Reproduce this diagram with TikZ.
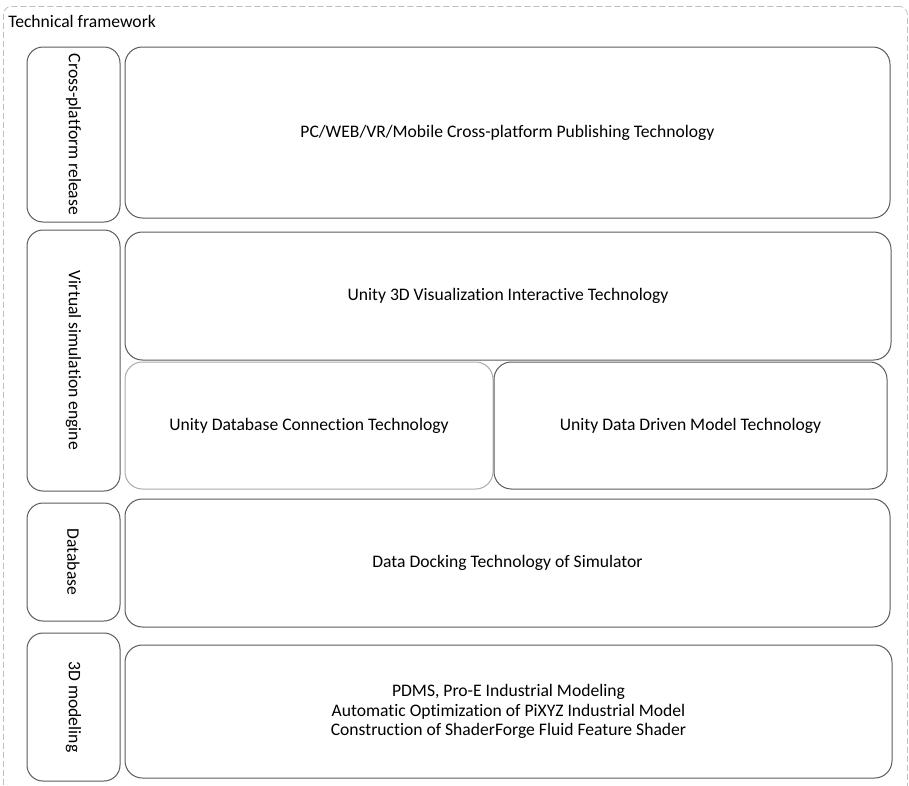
\documentclass[tikz,border=0pt]{standalone}
\usepackage{fontspec}
\setmainfont{Carlito}[Ligatures=CommonOff]
\usetikzlibrary{positioning}
\definecolor{boxline}{HTML}{5A5A5A}
\definecolor{lightline}{HTML}{ABABAB}
\definecolor{frameline}{HTML}{BEBEBE}

\begin{document}
\begin{tikzpicture}[x=1pt, y=-1pt, font=\fontsize{13.2}{14.8}\selectfont]
    \tikzstyle{layer} = [rectangle, draw=boxline, line width=0.75pt, rounded corners=12pt, rotate=-90, minimum height=69.75pt]
    \tikzstyle{tech} = [rectangle, draw=boxline, line width=0.75pt, rounded corners=13pt, align=center]
    \tikzstyle{frame} = [draw=frameline, line width=0.6pt, dash pattern=on 4.5pt off 2.25pt, rounded corners=6pt]

    \useasboundingbox (0,0) rectangle (681.75,588.75);

    % outer frame
    \node [frame, minimum width=678pt, minimum height=591pt, anchor=north west] (framework) at (2.25,4.5) {};
    \node [anchor=west, inner sep=0pt] (title) at (6,16) {Technical framework};

    % layers on the left
    \node [layer, minimum width=131.25pt] (release) at (55.125,100.875) {Cross-platform release};
    \node [layer, minimum width=195.75pt] (engine) at (55.125,270.375) {Virtual simulation engine};
    \node [layer, minimum width=88.5pt] (database) at (55.125,421.5) {Database};
    \node [layer, minimum width=111pt] (modeling) at (55.125,530.25) {3D modeling};

    % technologies on the right
    \node [tech, minimum width=573.75pt, minimum height=128.25pt] (publish) at (380.625,99.375) {PC/WEB/VR/Mobile Cross-platform Publishing Technology};
    \node [tech, minimum width=574.5pt, minimum height=96pt] (visual) at (381,222) {Unity 3D Visualization Interactive Technology};
    \node [tech, draw=lightline, minimum width=276pt, minimum height=95.25pt] (dbconn) at (231.75,319.125) {Unity Database Connection Technology};
    \node [tech, minimum width=294.75pt, minimum height=95.25pt] (datadriven) at (517.875,319.125) {Unity Data Driven Model Technology};
    \node [tech, minimum width=573.75pt, minimum height=96pt] (docking) at (380.625,422.25) {Data Docking Technology of Simulator};
    \node [tech, minimum width=575.25pt, minimum height=99.75pt] (tools) at (381.375,533.625) {PDMS, Pro-E Industrial Modeling\\ Automatic Optimization of PiXYZ Industrial Model\\ Construction of ShaderForge Fluid Feature Shader};
\end{tikzpicture}
\end{document}
